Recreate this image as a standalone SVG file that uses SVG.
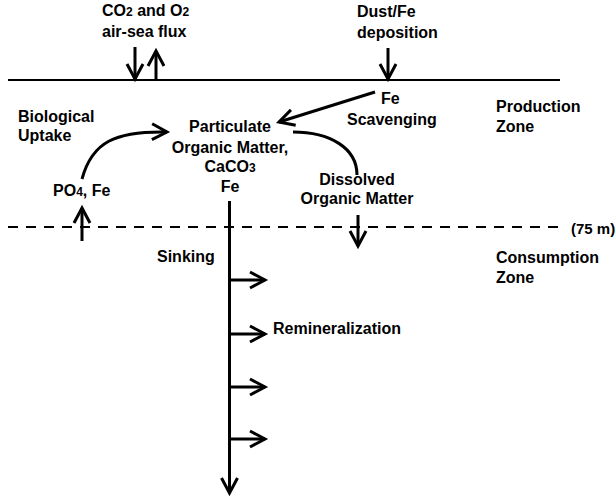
<svg xmlns="http://www.w3.org/2000/svg" width="616" height="499" viewBox="0 0 616 499">
<style>
text{font-family:"Liberation Sans",Arial,sans-serif;font-weight:bold;font-size:16px;fill:#000}
.m{text-anchor:middle}
.sub{font-size:12px}
.ln{stroke:#000;fill:none;stroke-width:3}
.thin{stroke:#000;fill:none;stroke-width:2}
.dash{stroke:#000;fill:none;stroke-width:2;stroke-dasharray:10 8}
</style>
<defs>
<marker id="ah" markerUnits="userSpaceOnUse" markerWidth="24" markerHeight="24" viewBox="-18 -12 22 24" refX="0" refY="0" orient="auto" overflow="visible">
<path d="M-15,-8 L0,0 L-15,8" fill="none" stroke="#000" stroke-width="3"/>
</marker>
</defs>
<rect width="616" height="499" fill="#fff"/>
<g id="surface"><line class="thin" x1="8" y1="80" x2="560" y2="80"/></g>
<g id="depth75"><line class="dash" x1="8" y1="227" x2="564" y2="227"/><text x="571" y="234" style="font-size:15px">(75 m)</text></g>
<g id="airsea"><text x="102" y="16">CO<tspan class="sub">2</tspan> and O<tspan class="sub">2</tspan></text><text x="102" y="37">air-sea flux</text></g>
<g id="dust"><text x="357" y="17">Dust/Fe</text><text x="357" y="38">deposition</text></g>
<g id="bio"><text x="18" y="122">Biological</text><text x="18" y="141">Uptake</text></g>
<g id="po4"><text x="53" y="196">PO<tspan class="sub">4</tspan>, Fe</text></g>
<g id="pom"><text class="m" x="230" y="132">Particulate</text><text class="m" x="230" y="153">Organic Matter,</text><text class="m" x="230" y="172">CaCO<tspan class="sub">3</tspan></text><text class="m" x="230" y="192">Fe</text></g>
<g id="fe"><text x="381" y="104">Fe</text><text x="347" y="125">Scavenging</text></g>
<g id="dom"><text class="m" x="357" y="185">Dissolved</text><text class="m" x="357" y="204">Organic Matter</text></g>
<g id="prod"><text x="496" y="112">Production</text><text x="496" y="132">Zone</text></g>
<g id="cons"><text x="496" y="263">Consumption</text><text x="496" y="283">Zone</text></g>
<g id="sinking"><text x="157" y="262">Sinking</text></g>
<g id="remin"><text x="273" y="334">Remineralization</text></g>
<g id="connectors">
<line class="ln" x1="135" y1="47" x2="135" y2="79" marker-end="url(#ah)"/>
<line class="ln" x1="156" y1="80" x2="156" y2="51" marker-end="url(#ah)"/>
<line class="ln" x1="388" y1="48" x2="388" y2="79" marker-end="url(#ah)"/>
<line class="ln" x1="375" y1="92" x2="279" y2="122" marker-end="url(#ah)"/>
<path class="ln" d="M82,179 C92,142 115,131 167,132" marker-end="url(#ah)"/>
<path class="ln" d="M293,132 C330,132 357,148 357,175"/>
<line class="ln" x1="82" y1="241" x2="82" y2="208" marker-end="url(#ah)"/>
<line class="ln" x1="358" y1="215" x2="358" y2="246" marker-end="url(#ah)"/>
<line class="ln" x1="229.5" y1="201" x2="229.5" y2="493" marker-end="url(#ah)"/>
<line class="ln" x1="229.5" y1="280" x2="265" y2="280" marker-end="url(#ah)"/>
<line class="ln" x1="229.5" y1="334" x2="265" y2="334" marker-end="url(#ah)"/>
<line class="ln" x1="229.5" y1="387" x2="265" y2="387" marker-end="url(#ah)"/>
<line class="ln" x1="229.5" y1="439" x2="265" y2="439" marker-end="url(#ah)"/>
</g>
</svg>
